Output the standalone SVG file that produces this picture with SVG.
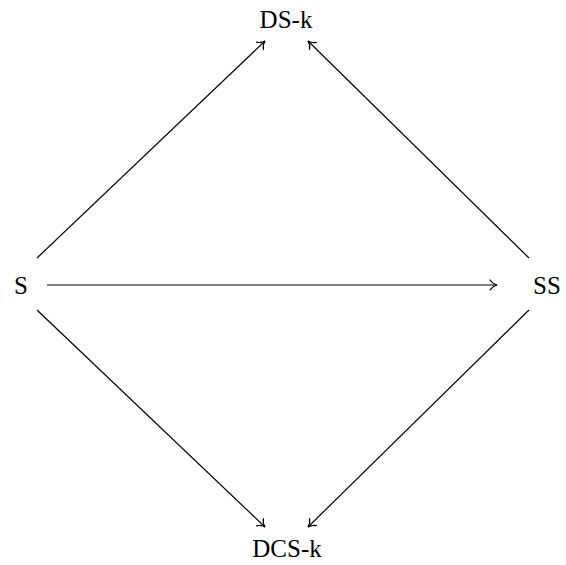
<svg xmlns="http://www.w3.org/2000/svg" width="566" height="565" viewBox="0 0 566 565">
<defs>
<style>
text{font-family:'Liberation Serif','DejaVu Serif',serif;font-size:25px;fill:#000}
.e{stroke:#000;stroke-width:1.2;fill:none;marker-end:url(#a)}
</style>
<marker id="a" viewBox="-8 -6 10 12" markerWidth="10" markerHeight="12" refX="0" refY="0" orient="auto" markerUnits="userSpaceOnUse">
<path d="M-7,-5 C-5,-2 -2,-0.5 0,0 C-2,0.5 -5,2 -7,5" fill="none" stroke="#000" stroke-width="1.2" stroke-linecap="round"/>
</marker>
</defs>
<rect width="566" height="565" fill="#fff"/>
<g id="connectors">
<line class="e" x1="37" y1="258" x2="265" y2="41"/>
<line class="e" x1="47" y1="285" x2="497" y2="285"/>
<line class="e" x1="529" y1="258" x2="308" y2="41"/>
<line class="e" x1="37" y1="310" x2="265" y2="527"/>
<line class="e" x1="529" y1="310" x2="308" y2="527"/>
</g>
<g id="DSk"><text x="286" y="28" text-anchor="middle" font-family="Liberation Serif, serif">DS-k</text></g>
<g id="S"><text x="21" y="294" text-anchor="middle" font-family="Liberation Serif, serif">S</text></g>
<g id="SS"><text x="547" y="294" text-anchor="middle" font-family="Liberation Serif, serif">SS</text></g>
<g id="DCSk"><text x="287" y="557" text-anchor="middle" font-family="Liberation Serif, serif">DCS-k</text></g>
</svg>
